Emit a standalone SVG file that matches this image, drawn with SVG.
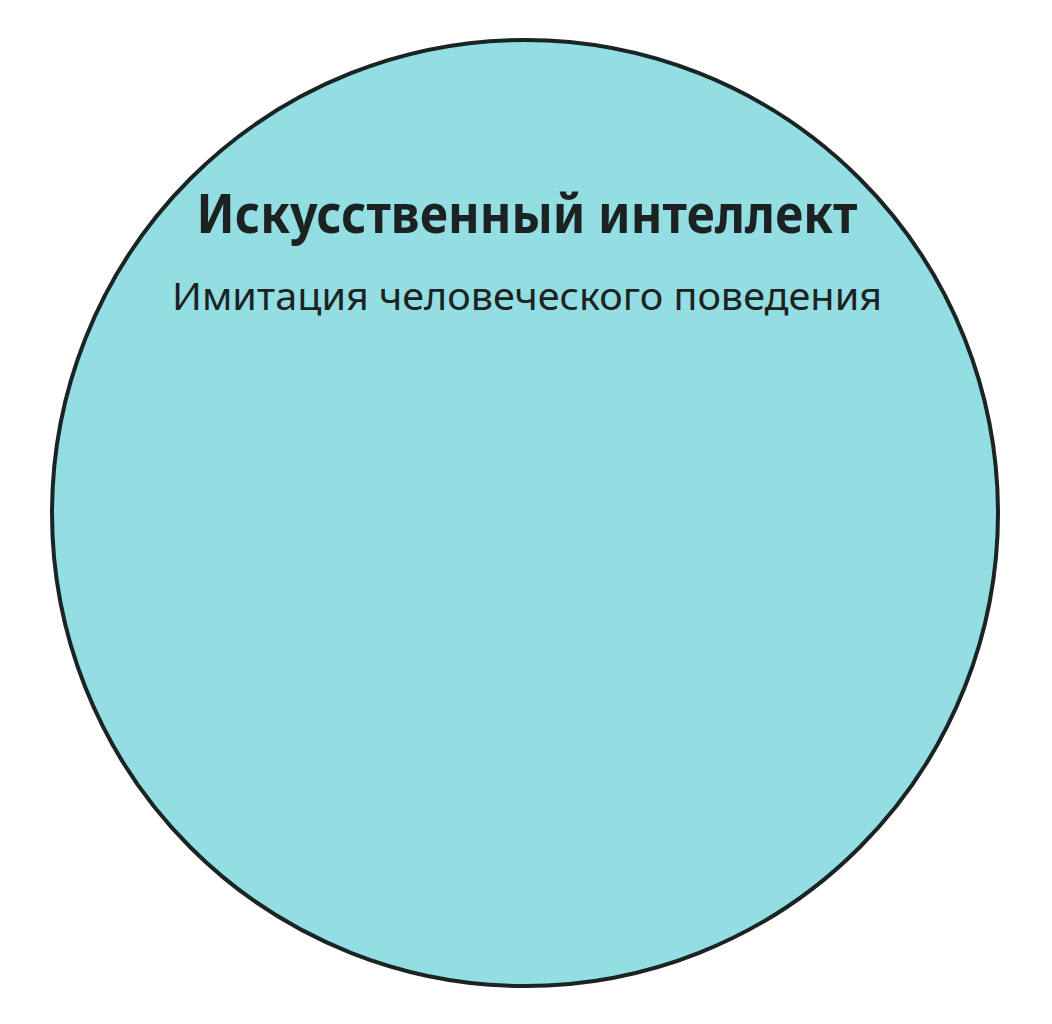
<svg xmlns="http://www.w3.org/2000/svg" width="1052" height="1024" viewBox="0 0 1052 1024">
<style>
.node-shape{fill:#92dee2;stroke:#1a2424;stroke-width:4}
.title{font-family:"Noto Sans","Open Sans","Liberation Sans",sans-serif;font-weight:700;font-size:53px;fill:#1c2222;text-anchor:middle}
.sub{font-family:"Noto Sans","Open Sans","Liberation Sans",sans-serif;font-weight:400;font-size:38px;fill:#1c2222;text-anchor:middle}
</style>
<rect width="1052" height="1024" fill="#ffffff"/>
<g id="connectors"></g>
<g id="node-ai">
<circle class="node-shape" cx="525" cy="513" r="473"/>
<text class="title" x="527" y="233" textLength="661" lengthAdjust="spacingAndGlyphs">Искусственный интеллект</text>
<text class="sub" x="527" y="310" textLength="710" lengthAdjust="spacingAndGlyphs">Имитация человеческого поведения</text>
</g>
</svg>
